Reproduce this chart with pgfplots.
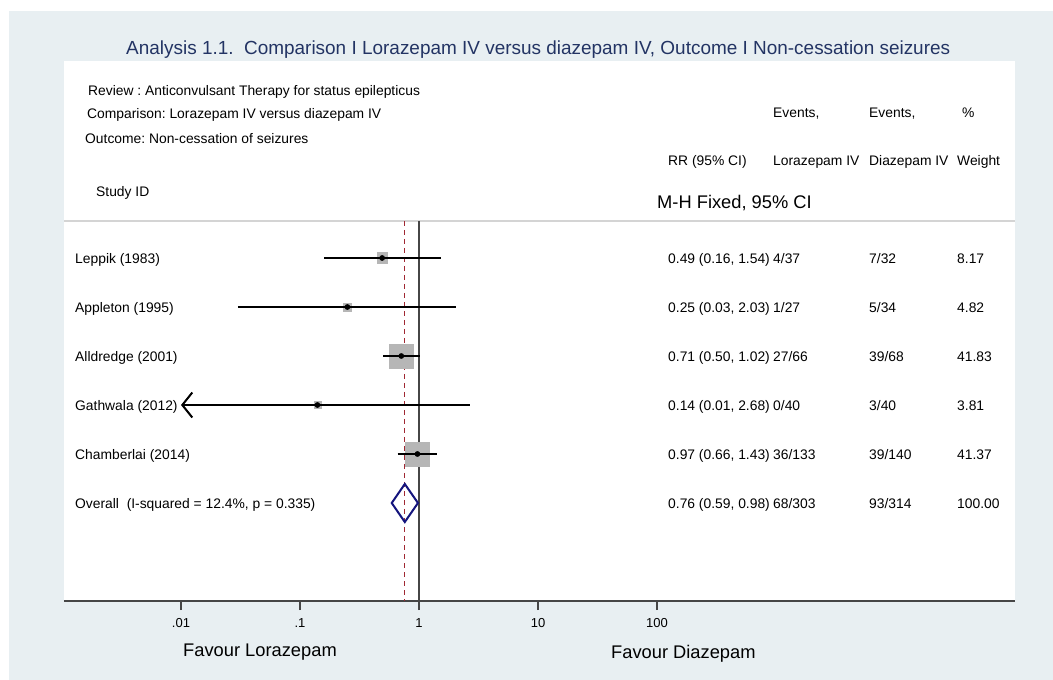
\documentclass[border=0pt]{standalone}
\usepackage{fontspec}
\setmainfont{Liberation Sans}
\usepackage{pgfplots}
\usepackage{pgfplotstable}
\pgfplotsset{compat=1.18}
\usetikzlibrary{arrows.meta}
\definecolor{bgblue}{RGB}{232,239,242}
\definecolor{boxgray}{RGB}{182,182,182}
\definecolor{titleblue}{RGB}{35,52,100}
\definecolor{diamondnavy}{RGB}{20,20,125}
\definecolor{refred}{RGB}{160,40,50}
\definecolor{linegray}{RGB}{70,70,70}
\definecolor{hdrgray}{RGB}{212,212,212}

% y = -row, rr = risk ratio, lo/hi = 95% CI, w = weight (%)
\pgfplotstableread{
y rr lo hi w
-1 0.49 0.16 1.54 8.17
-2 0.25 0.03 2.03 4.82
-3 0.71 0.50 1.02 41.83
-4 0.14 0.01 2.68 3.81
-5 0.97 0.66 1.43 41.37
}\studies

\newcommand{\fs}{\fontsize{13.85}{16}\selectfont}
\newcommand{\fb}{\fontsize{18.3}{21}\selectfont}

\begin{document}
\frenchspacing
\begin{tikzpicture}
\fill[white] (0pt,0pt) rectangle (1053pt,-680pt);
\fill[bgblue] (9pt,-11pt) rectangle (1053pt,-680pt);
\fill[white] (64pt,-61pt) rectangle (1015pt,-601pt);
\draw[hdrgray, line width=1.5pt] (64pt,-221pt) -- (1015pt,-221pt);

\begin{axis}[
  at={(64pt,-601pt)}, anchor=south west,
  scale only axis, width=951pt, height=540pt,
  xmode=log, xmin=0.0010394, xmax=101953,
  ymin=-8, ymax=3.0204,
  axis x line*=bottom, axis y line=none,
  x axis line style={linegray, line width=1.5pt},
  xtick={0.01,0.1,1,10,100}, xticklabels={.01,.1,1,10,100},
  xminorticks=false,
  tick align=outside, major tick length=9pt,
  x tick style={linegray, line width=1.2pt},
  x tick label style={font=\fontsize{13}{15}\selectfont, text=black, yshift=-5pt},
  clip=false, clip mode=individual,
]
% reference lines
\addplot[linegray, line width=1.5pt] coordinates {(1,-0.2449) (1,-8)};
\addplot[refred, dash pattern=on 5pt off 4pt, line width=1pt] coordinates {(0.76,-0.2449) (0.76,-8)};
% weight boxes
\addplot[scatter, only marks, mark=square*,
  scatter/use mapped color={draw=boxgray, fill=boxgray},
  visualization depends on={1.855*sqrt(\thisrow{w}) \as \msz},
  scatter/@pre marker code/.append style={/tikz/mark size=\msz}]
  table[x=rr, y=y] {\studies};
% confidence intervals
\addplot[black, line width=2pt] coordinates {(0.16,-1) (1.54,-1)};
\addplot[black, line width=2pt] coordinates {(0.03,-2) (2.03,-2)};
\addplot[black, line width=2pt] coordinates {(0.50,-3) (1.02,-3)};
\addplot[black, line width=2pt, {Straight Barb[length=10pt,width=25pt]}-] coordinates {(0.01,-4) (2.68,-4)};
\addplot[black, line width=2pt] coordinates {(0.66,-5) (1.43,-5)};
% point estimates
\addplot[only marks, mark=*, mark size=2.6pt, black] table[x=rr, y=y] {\studies};
% overall diamond
\addplot[diamondnavy, line width=2pt, line join=miter] coordinates {(0.59,-6) (0.76,-5.612) (0.98,-6) (0.76,-6.388)} -- cycle;
\end{axis}

% title
\node[anchor=base west, inner sep=0, text=titleblue, font=\fontsize{18.95}{21}\selectfont] at (126pt,-54.5pt) {Analysis 1.1.\ \ Comparison I Lorazepam IV versus diazepam IV, Outcome I Non-cessation seizures};
% header block
\begin{scope}[every node/.style={anchor=base west, inner sep=0, font=\fs}]
\node at (88pt,-95pt) {Review : Anticonvulsant Therapy for status epilepticus};
\node at (87pt,-118pt) {Comparison: Lorazepam IV versus diazepam IV};
\node at (85pt,-143pt) {Outcome: Non-cessation of seizures};
\node at (96pt,-196pt) {Study ID};
\node at (773pt,-117pt) {Events,};
\node at (869pt,-117pt) {Events,};
\node at (962pt,-117pt) {\%};
\node at (668pt,-165pt) {RR (95\% CI)};
\node at (773pt,-165pt) {Lorazepam IV};
\node at (869pt,-165pt) {Diazepam IV};
\node at (957pt,-165pt) {Weight};
% rows
\node at (75pt,-263pt) {Leppik (1983)};
\node at (75pt,-312pt) {Appleton (1995)};
\node at (75pt,-361pt) {Alldredge (2001)};
\node at (75pt,-410pt) {Gathwala (2012)};
\node at (75pt,-459pt) {Chamberlai (2014)};
\node at (75pt,-508pt) {Overall\ \ (I-squared = 12.4\%, p = 0.335)};
\node at (668pt,-263pt) {0.49 (0.16, 1.54)};
\node at (668pt,-312pt) {0.25 (0.03, 2.03)};
\node at (668pt,-361pt) {0.71 (0.50, 1.02)};
\node at (668pt,-410pt) {0.14 (0.01, 2.68)};
\node at (668pt,-459pt) {0.97 (0.66, 1.43)};
\node at (668pt,-508pt) {0.76 (0.59, 0.98)};
\node at (773pt,-263pt) {4/37};
\node at (773pt,-312pt) {1/27};
\node at (773pt,-361pt) {27/66};
\node at (773pt,-410pt) {0/40};
\node at (773pt,-459pt) {36/133};
\node at (773pt,-508pt) {68/303};
\node at (869pt,-263pt) {7/32};
\node at (869pt,-312pt) {5/34};
\node at (869pt,-361pt) {39/68};
\node at (869pt,-410pt) {3/40};
\node at (869pt,-459pt) {39/140};
\node at (869pt,-508pt) {93/314};
\node at (957pt,-263pt) {8.17};
\node at (957pt,-312pt) {4.82};
\node at (957pt,-361pt) {41.83};
\node at (957pt,-410pt) {3.81};
\node at (957pt,-459pt) {41.37};
\node at (957pt,-508pt) {100.00};
\end{scope}
\node[anchor=base west, inner sep=0, font=\fb] at (657pt,-208.6pt) {M-H Fixed, 95\% CI};
\node[anchor=base west, inner sep=0, font=\fb] at (183pt,-656.5pt) {Favour Lorazepam};
\node[anchor=base west, inner sep=0, font=\fb] at (611pt,-658pt) {Favour Diazepam};
\end{tikzpicture}
\end{document}
